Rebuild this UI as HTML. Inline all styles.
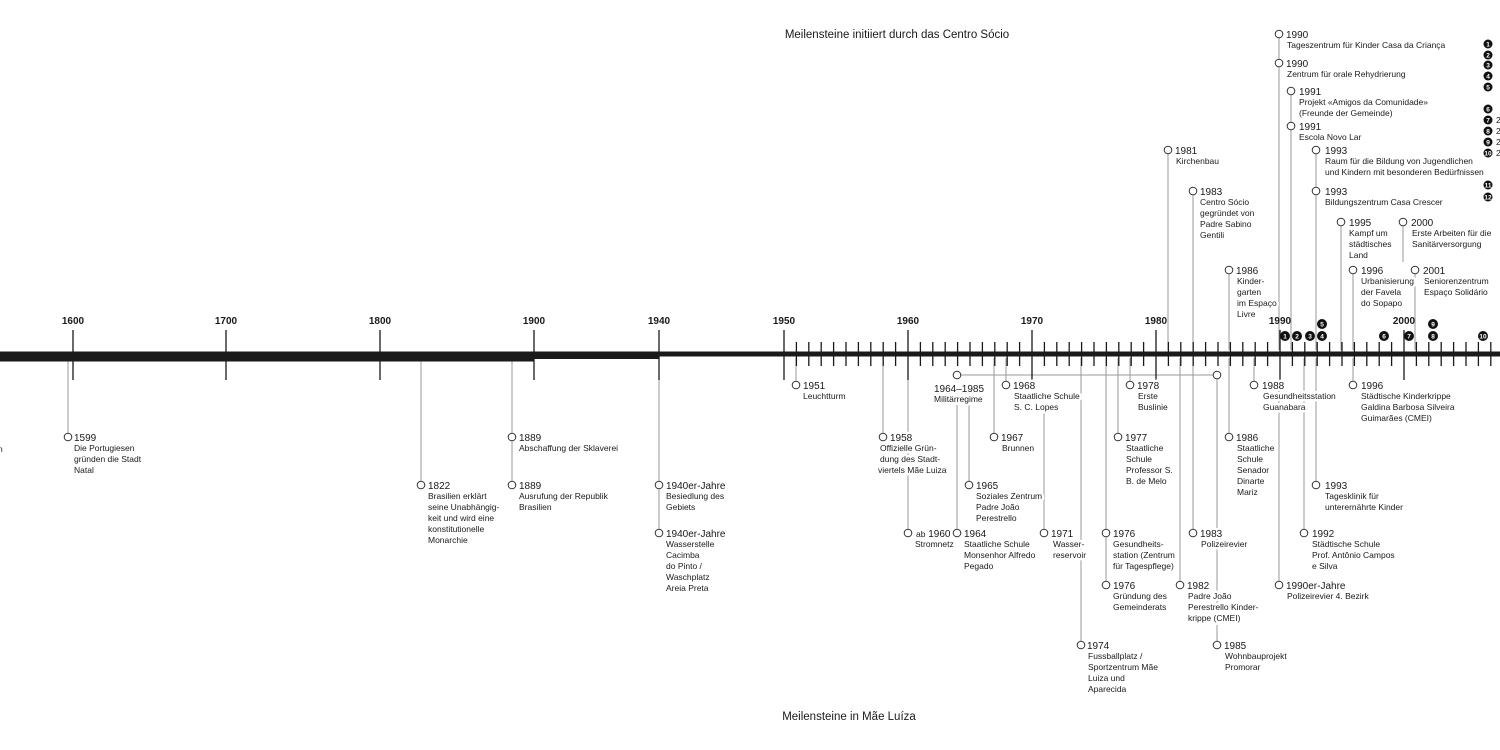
<!DOCTYPE html>
<html><head><meta charset="utf-8"><style>
html,body{margin:0;padding:0;background:#fff;}
svg{display:block;font-family:"Liberation Sans",Arial,sans-serif;}
.y{font-size:10px;fill:#1a1a1a;}
.d{font-size:8.5px;fill:#1a1a1a;}
.t{font-size:11.5px;fill:#1a1a1a;}
.dec{font-size:10px;font-weight:bold;fill:#1a1a1a;text-anchor:middle;}
.ev text{paint-order:stroke;stroke:#fff;stroke-width:5px;stroke-linejoin:round;}
.ev circle{fill:#fff;stroke:#333;stroke-width:1;}
.nb circle{fill:#111;}
.nb text{font-size:6.5px;font-weight:bold;fill:#fff;text-anchor:middle;}
</style></head><body>
<svg width="1500" height="750" viewBox="0 0 1500 750" xmlns="http://www.w3.org/2000/svg">
<text class="t" x="897" y="38" text-anchor="middle">Meilensteine initiiert durch das Centro Sócio</text>
<text class="t" x="849" y="720" text-anchor="middle">Meilensteine in Mãe Luíza</text>

<!-- connector lines -->
<g stroke="#999" stroke-width="1" fill="none">
<path d="M68 358V433 M421 358V481 M512 358V481 M659 380V529 M796 358V381 M883 358V433 M908 380V529 M957 375H1217 M957 405V529 M969 405V481 M1006 358V381 M994 358V433 M1044 405V529 M1081 358V641 M1106 358V581 M1118 358V433 M1130 358V381 M1180 358V581 M1193 358V529 M1217 379V641 M1229 358V433 M1254 358V381 M1279 380V581 M1304 358V529 M1316 358V481 M1353 358V381"/>
<path d="M1168 154V350 M1193 195V350 M1229 274V350 M1279 38V350 M1291 95V350 M1316 154V350 M1341 226V350 M1353 274V350 M1403 226V262 M1415 274V350"/>
</g>

<!-- main bar -->
<rect x="0" y="351.5" width="534" height="10" fill="#1a1a1a"/>
<rect x="534" y="351.5" width="125" height="7.5" fill="#1a1a1a"/>
<rect x="659" y="351.5" width="841" height="5" fill="#1a1a1a"/>

<!-- ticks -->
<g stroke="#1a1a1a" stroke-width="1.3">
<path d="M73 330V380 M226 330V380 M380 330V380 M534 330V380 M659 330V380 M784 330V380 M908 330V380 M1032 330V380 M1156 330V380 M1280 330V380 M1404 330V380"/>
<path d="M796.4 342V366 M808.8 342V366 M821.2 342V366 M833.6 342V366 M846 342V366 M858.4 342V366 M870.8 342V366 M883.2 342V366 M895.6 342V366 M920.4 342V366 M932.8 342V366 M945.2 342V366 M957.6 342V366 M970 342V366 M982.4 342V366 M994.8 342V366 M1007.2 342V366 M1019.6 342V366 M1044.4 342V366 M1056.8 342V366 M1069.2 342V366 M1081.6 342V366 M1094 342V366 M1106.4 342V366 M1118.8 342V366 M1131.2 342V366 M1143.6 342V366 M1168.4 342V366 M1180.8 342V366 M1193.2 342V366 M1205.6 342V366 M1218 342V366 M1230.4 342V366 M1242.8 342V366 M1255.2 342V366 M1267.6 342V366 M1292.4 342V366 M1304.8 342V366 M1317.2 342V366 M1329.6 342V366 M1342 342V366 M1354.4 342V366 M1366.8 342V366 M1379.2 342V366 M1391.6 342V366 M1416.4 342V366 M1428.8 342V366 M1441.2 342V366 M1453.6 342V366 M1466 342V366 M1478.4 342V366 M1490.8 342V366"/>
</g>
<g class="dec">
<text x="73" y="324">1600</text><text x="226" y="324">1700</text><text x="380" y="324">1800</text><text x="534" y="324">1900</text><text x="659" y="324">1940</text><text x="784" y="324">1950</text><text x="908" y="324">1960</text><text x="1032" y="324">1970</text><text x="1156" y="324">1980</text><text x="1280" y="324">1990</text><text x="1404" y="324">2000</text>
</g>

<!-- numbered markers -->
<g class="nb">
<g transform="translate(1285,336)"><circle r="5"/><text y="2.3">1</text></g>
<g transform="translate(1297,336)"><circle r="5"/><text y="2.3">2</text></g>
<g transform="translate(1310,336)"><circle r="5"/><text y="2.3">3</text></g>
<g transform="translate(1322,336)"><circle r="5"/><text y="2.3">4</text></g>
<g transform="translate(1322,324)"><circle r="5"/><text y="2.3">5</text></g>
<g transform="translate(1384,336)"><circle r="5"/><text y="2.3">6</text></g>
<g transform="translate(1409,336)"><circle r="5"/><text y="2.3">7</text></g>
<g transform="translate(1433,336)"><circle r="5"/><text y="2.3">8</text></g>
<g transform="translate(1433,324)"><circle r="5"/><text y="2.3">9</text></g>
<g transform="translate(1483,336)"><circle r="5"/><text y="2.3">10</text></g>
<g transform="translate(1488,44)"><circle r="4.5"/><text y="2.3">1</text></g>
<g transform="translate(1488,55)"><circle r="4.5"/><text y="2.3">2</text></g>
<g transform="translate(1488,65)"><circle r="4.5"/><text y="2.3">3</text></g>
<g transform="translate(1488,76)"><circle r="4.5"/><text y="2.3">4</text></g>
<g transform="translate(1488,87)"><circle r="4.5"/><text y="2.3">5</text></g>
<g transform="translate(1488,109)"><circle r="4.5"/><text y="2.3">6</text></g>
<g transform="translate(1488,120)"><circle r="4.5"/><text y="2.3">7</text></g>
<g transform="translate(1488,131)"><circle r="4.5"/><text y="2.3">8</text></g>
<g transform="translate(1488,142)"><circle r="4.5"/><text y="2.3">9</text></g>
<g transform="translate(1488,153)"><circle r="4.5"/><text y="2.3">10</text></g>
<g transform="translate(1488,185)"><circle r="4.5"/><text y="2.3">11</text></g>
<g transform="translate(1488,197)"><circle r="4.5"/><text y="2.3">12</text></g>
</g>
<g class="d"><text x="1496" y="123">2</text><text x="1496" y="134">2</text><text x="1496" y="145">2</text><text x="1496" y="156">2</text></g>

<!-- events -->
<g class="ev">
<text class="d" x="-2" y="452">n</text>

<g transform="translate(68,437)"><circle r="3.8"/><text class="y" x="6" y="4">1599</text><text class="d" y="14"><tspan x="6">Die Portugiesen</tspan><tspan x="6" dy="11">gründen die Stadt</tspan><tspan x="6" dy="11">Natal</tspan></text></g>
<g transform="translate(421,485)"><circle r="3.8"/><text class="y" x="7" y="4">1822</text><text class="d" y="14"><tspan x="7">Brasilien erklärt</tspan><tspan x="7" dy="11">seine Unabhängig-</tspan><tspan x="7" dy="11">keit und wird eine</tspan><tspan x="7" dy="11">konstitutionelle</tspan><tspan x="7" dy="11">Monarchie</tspan></text></g>
<g transform="translate(512,437)"><circle r="3.8"/><text class="y" x="7" y="4">1889</text><text class="d" y="14"><tspan x="7">Abschaffung der Sklaverei</tspan></text></g>
<g transform="translate(512,485)"><circle r="3.8"/><text class="y" x="7" y="4">1889</text><text class="d" y="14"><tspan x="7">Ausrufung der Republik</tspan><tspan x="7" dy="11">Brasilien</tspan></text></g>
<g transform="translate(659,485)"><circle r="3.8"/><text class="y" x="7" y="4">1940er-Jahre</text><text class="d" y="14"><tspan x="7">Besiedlung des</tspan><tspan x="7" dy="11">Gebiets</tspan></text></g>
<g transform="translate(659,533)"><circle r="3.8"/><text class="y" x="7" y="4">1940er-Jahre</text><text class="d" y="14"><tspan x="7">Wasserstelle</tspan><tspan x="7" dy="11">Cacimba</tspan><tspan x="7" dy="11">do Pinto /</tspan><tspan x="7" dy="11">Waschplatz</tspan><tspan x="7" dy="11">Areia Preta</tspan></text></g>
<g transform="translate(796,385)"><circle r="3.8"/><text class="y" x="7" y="4">1951</text><text class="d" y="14"><tspan x="7">Leuchtturm</tspan></text></g>
<g transform="translate(883,437)"><circle r="3.8"/><text class="y" x="7" y="4">1958</text><text class="d" y="14"><tspan x="-3">Offizielle Grün-</tspan><tspan x="-3" dy="11">dung des Stadt-</tspan><tspan x="-5" dy="11">viertels Mãe Luiza</tspan></text></g>
<g transform="translate(908,533)"><circle r="3.8"/><text class="y" x="8" y="4"><tspan font-size="8.5">ab</tspan> 1960</text><text class="d" y="14"><tspan x="7">Stromnetz</tspan></text></g>
<g transform="translate(957,375)"><circle r="3.8"/><text class="y" x="-23" y="17">1964–1985</text><text class="d" y="27"><tspan x="-23">Militärregime</tspan></text></g>
<circle cx="1217" cy="375" r="3.8" fill="#fff" stroke="#333"/>
<g transform="translate(957,533)"><circle r="3.8"/><text class="y" x="7" y="4">1964</text><text class="d" y="14"><tspan x="7">Staatliche Schule</tspan><tspan x="7" dy="11">Monsenhor Alfredo</tspan><tspan x="7" dy="11">Pegado</tspan></text></g>
<g transform="translate(969,485)"><circle r="3.8"/><text class="y" x="7" y="4">1965</text><text class="d" y="14"><tspan x="7">Soziales Zentrum</tspan><tspan x="7" dy="11">Padre João</tspan><tspan x="7" dy="11">Perestrello</tspan></text></g>
<g transform="translate(1006,385)"><circle r="3.8"/><text class="y" x="7" y="4">1968</text><text class="d" y="14"><tspan x="8">Staatliche Schule</tspan><tspan x="8" dy="11">S. C. Lopes</tspan></text></g>
<g transform="translate(994,437)"><circle r="3.8"/><text class="y" x="7" y="4">1967</text><text class="d" y="14"><tspan x="8">Brunnen</tspan></text></g>
<g transform="translate(1044,533)"><circle r="3.8"/><text class="y" x="7" y="4">1971</text><text class="d" y="14"><tspan x="9">Wasser-</tspan><tspan x="9" dy="11">reservoir</tspan></text></g>
<g transform="translate(1081,645)"><circle r="3.8"/><text class="y" x="6" y="4">1974</text><text class="d" y="14"><tspan x="7">Fussballplatz /</tspan><tspan x="7" dy="11">Sportzentrum Mãe</tspan><tspan x="7" dy="11">Luiza und</tspan><tspan x="7" dy="11">Aparecida</tspan></text></g>
<g transform="translate(1106,533)"><circle r="3.8"/><text class="y" x="7" y="4">1976</text><text class="d" y="14"><tspan x="7">Gesundheits-</tspan><tspan x="7" dy="11">station (Zentrum</tspan><tspan x="7" dy="11">für Tagespflege)</tspan></text></g>
<g transform="translate(1106,585)"><circle r="3.8"/><text class="y" x="7" y="4">1976</text><text class="d" y="14"><tspan x="7">Gründung des</tspan><tspan x="7" dy="11">Gemeinderats</tspan></text></g>
<g transform="translate(1118,437)"><circle r="3.8"/><text class="y" x="7" y="4">1977</text><text class="d" y="14"><tspan x="8">Staatliche</tspan><tspan x="8" dy="11">Schule</tspan><tspan x="8" dy="11">Professor S.</tspan><tspan x="8" dy="11">B. de Melo</tspan></text></g>
<g transform="translate(1130,385)"><circle r="3.8"/><text class="y" x="7" y="4">1978</text><text class="d" y="14"><tspan x="8">Erste</tspan><tspan x="8" dy="11">Buslinie</tspan></text></g>
<g transform="translate(1180,585)"><circle r="3.8"/><text class="y" x="7" y="4">1982</text><text class="d" y="14"><tspan x="8">Padre João</tspan><tspan x="8" dy="11">Perestrello Kinder-</tspan><tspan x="8" dy="11">krippe (CMEI)</tspan></text></g>
<g transform="translate(1193,533)"><circle r="3.8"/><text class="y" x="7" y="4">1983</text><text class="d" y="14"><tspan x="8">Polizeirevier</tspan></text></g>
<g transform="translate(1217,645)"><circle r="3.8"/><text class="y" x="7" y="4">1985</text><text class="d" y="14"><tspan x="8">Wohnbauprojekt</tspan><tspan x="8" dy="11">Promorar</tspan></text></g>
<g transform="translate(1229,437)"><circle r="3.8"/><text class="y" x="7" y="4">1986</text><text class="d" y="14"><tspan x="8">Staatliche</tspan><tspan x="8" dy="11">Schule</tspan><tspan x="8" dy="11">Senador</tspan><tspan x="8" dy="11">Dinarte</tspan><tspan x="8" dy="11">Mariz</tspan></text></g>
<g transform="translate(1254,385)"><circle r="3.8"/><text class="y" x="8" y="4">1988</text><text class="d" y="14"><tspan x="9">Gesundheitsstation</tspan><tspan x="9" dy="11">Guanabara</tspan></text></g>
<g transform="translate(1279,585)"><circle r="3.8"/><text class="y" x="7" y="4">1990er-Jahre</text><text class="d" y="14"><tspan x="8">Polizeirevier 4. Bezirk</tspan></text></g>
<g transform="translate(1304,533)"><circle r="3.8"/><text class="y" x="8" y="4">1992</text><text class="d" y="14"><tspan x="8">Städtische Schule</tspan><tspan x="8" dy="11">Prof. Antônio Campos</tspan><tspan x="8" dy="11">e Silva</tspan></text></g>
<g transform="translate(1316,485)"><circle r="3.8"/><text class="y" x="9" y="4">1993</text><text class="d" y="14"><tspan x="9">Tagesklinik für</tspan><tspan x="9" dy="11">unterernährte Kinder</tspan></text></g>
<g transform="translate(1353,385)"><circle r="3.8"/><text class="y" x="8" y="4">1996</text><text class="d" y="14"><tspan x="8">Städtische Kinderkrippe</tspan><tspan x="8" dy="11">Galdina Barbosa Silveira</tspan><tspan x="8" dy="11">Guimarães (CMEI)</tspan></text></g>

<!-- above -->
<g transform="translate(1168,150)"><circle r="3.8"/><text class="y" x="7" y="4">1981</text><text class="d" y="14"><tspan x="8">Kirchenbau</tspan></text></g>
<g transform="translate(1193,191)"><circle r="3.8"/><text class="y" x="7" y="4">1983</text><text class="d" y="14"><tspan x="7">Centro Sócio</tspan><tspan x="7" dy="11">gegründet von</tspan><tspan x="7" dy="11">Padre Sabino</tspan><tspan x="7" dy="11">Gentili</tspan></text></g>
<g transform="translate(1229,270)"><circle r="3.8"/><text class="y" x="7" y="4">1986</text><text class="d" y="14"><tspan x="8">Kinder-</tspan><tspan x="8" dy="11">garten</tspan><tspan x="8" dy="11">im Espaço</tspan><tspan x="8" dy="11">Livre</tspan></text></g>
<g transform="translate(1279,34)"><circle r="3.8"/><text class="y" x="7" y="4">1990</text><text class="d" y="14"><tspan x="8">Tageszentrum für Kinder Casa da Criança</tspan></text></g>
<g transform="translate(1279,63)"><circle r="3.8"/><text class="y" x="7" y="4">1990</text><text class="d" y="14"><tspan x="8">Zentrum für orale Rehydrierung</tspan></text></g>
<g transform="translate(1291,91)"><circle r="3.8"/><text class="y" x="8" y="4">1991</text><text class="d" y="14"><tspan x="8">Projekt «Amigos da Comunidade»</tspan><tspan x="8" dy="11">(Freunde der Gemeinde)</tspan></text></g>
<g transform="translate(1291,126)"><circle r="3.8"/><text class="y" x="8" y="4">1991</text><text class="d" y="14"><tspan x="8">Escola Novo Lar</tspan></text></g>
<g transform="translate(1316,150)"><circle r="3.8"/><text class="y" x="9" y="4">1993</text><text class="d" y="14"><tspan x="9">Raum für die Bildung von Jugendlichen</tspan><tspan x="9" dy="11">und Kindern mit besonderen Bedürfnissen</tspan></text></g>
<g transform="translate(1316,191)"><circle r="3.8"/><text class="y" x="9" y="4">1993</text><text class="d" y="14"><tspan x="9">Bildungszentrum Casa Crescer</tspan></text></g>
<g transform="translate(1341,222)"><circle r="3.8"/><text class="y" x="8" y="4">1995</text><text class="d" y="14"><tspan x="8">Kampf um</tspan><tspan x="8" dy="11">städtisches</tspan><tspan x="8" dy="11">Land</tspan></text></g>
<g transform="translate(1353,270)"><circle r="3.8"/><text class="y" x="8" y="4">1996</text><text class="d" y="14"><tspan x="8">Urbanisierung</tspan><tspan x="8" dy="11">der Favela</tspan><tspan x="8" dy="11">do Sopapo</tspan></text></g>
<g transform="translate(1403,222)"><circle r="3.8"/><text class="y" x="8" y="4">2000</text><text class="d" y="14"><tspan x="9">Erste Arbeiten für die</tspan><tspan x="9" dy="11">Sanitärversorgung</tspan></text></g>
<g transform="translate(1415,270)"><circle r="3.8"/><text class="y" x="8" y="4">2001</text><text class="d" y="14"><tspan x="9">Seniorenzentrum</tspan><tspan x="9" dy="11">Espaço Solidário</tspan></text></g>
</g>
</svg>
</body></html>
